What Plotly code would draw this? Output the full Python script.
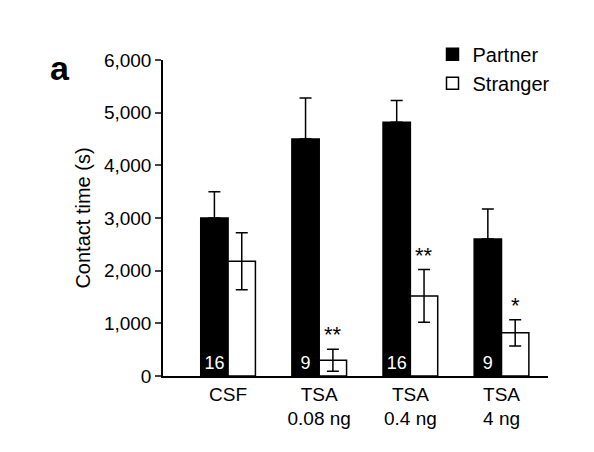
import plotly.graph_objects as go

groups = ["CSF", "TSA<br>0.08 ng", "TSA<br>0.4 ng", "TSA<br>4 ng"]
partner = [3000, 4500, 4820, 2600]
partner_err = [500, 780, 410, 570]
stranger = [2180, 300, 1520, 820]
stranger_err = [540, 210, 500, 250]
n_labels = ["16", "9", "16", "9"]
stars = ["", "**", "**", "*"]

xs = list(range(len(groups)))
font = "Liberation Sans, Arial, sans-serif"

fig = go.Figure()
fig.add_trace(go.Bar(
    x=xs, y=partner, name="Partner",
    marker=dict(color="black", line=dict(color="black", width=1.5)),
    error_y=dict(type="data", array=partner_err, arrayminus=[0] * 4,
                 color="black", thickness=1.5, width=6),
    text=n_labels, textposition="inside", insidetextanchor="start",
    textfont=dict(color="white", size=18, family=font),
))
fig.add_trace(go.Bar(
    x=xs, y=stranger, name="Stranger",
    marker=dict(color="white", line=dict(color="black", width=1.5)),
    error_y=dict(type="data", array=stranger_err,
                 color="black", thickness=1.5, width=6),
))

for i, s in enumerate(stars):
    if s:
        fig.add_annotation(x=i + 0.15, y=stranger[i] + stranger_err[i],
                           text=s, showarrow=False, yanchor="bottom",
                           font=dict(size=22, family=font, color="black"))

fig.add_annotation(x=-0.30, y=1.04, xref="paper", yref="paper", text="<b>a</b>",
                   showarrow=False, font=dict(size=34, family=font, color="black"))

fig.update_layout(
    width=594, height=452,
    margin=dict(l=155, r=54, t=52, b=84, autoexpand=False),
    plot_bgcolor="white", paper_bgcolor="white",
    barmode="group", bargap=0.4, bargroupgap=0,
    font=dict(family=font, size=19, color="black"),
    showlegend=True,
    legend=dict(x=0.70, y=1.08, xanchor="left", yanchor="top",
                font=dict(size=20), itemwidth=30, tracegroupgap=4),
    xaxis=dict(tickvals=xs, ticktext=groups, range=[-0.714, 3.51],
               showline=True, linecolor="black", linewidth=1.5,
               ticks="", showgrid=False, zeroline=False, automargin=False),
    yaxis=dict(range=[0, 6000], dtick=1000, tickformat=",",
               showline=True, linecolor="black", linewidth=1.5,
               ticks="outside", ticklen=6, tickwidth=1.5,
               showgrid=False, zeroline=False, automargin=False,
               title=dict(text="Contact time (s)", font=dict(size=20), standoff=8)),
)

fig.write_html("out.html")
